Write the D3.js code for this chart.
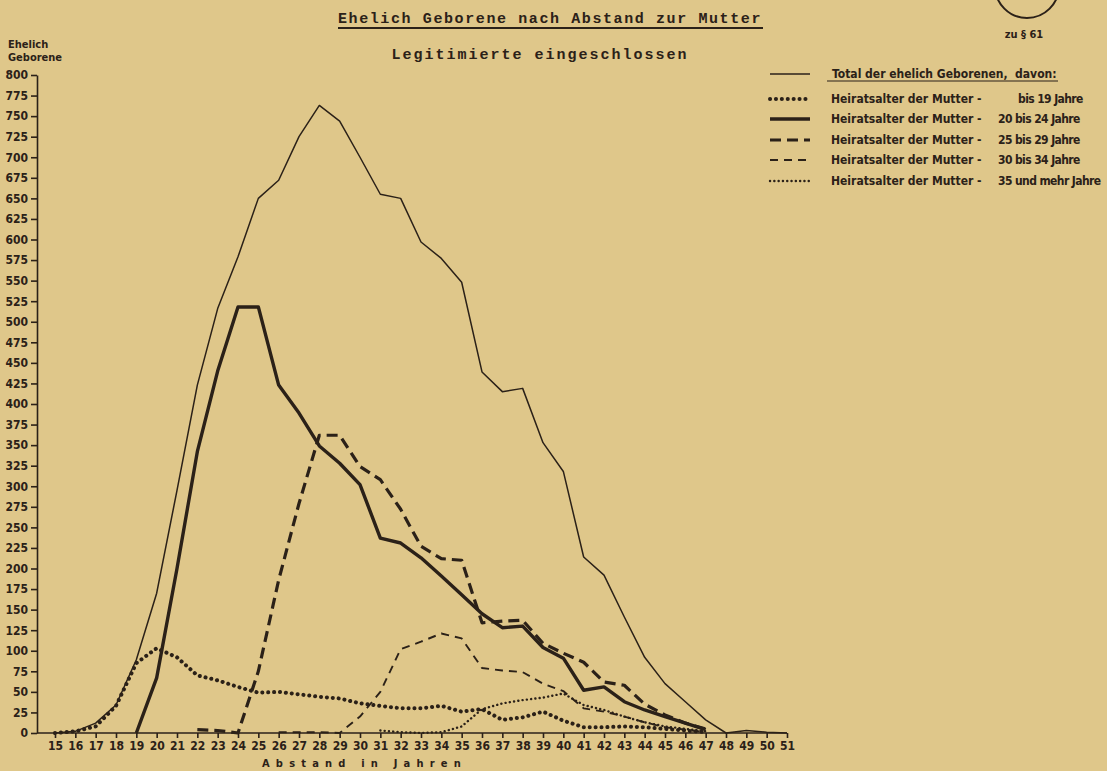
<!DOCTYPE html>
<html lang="de">
<head>
    <meta charset="UTF-8">
    <title>Ehelich Geborene nach Abstand zur Mutter</title>
    <script src="https://cdnjs.cloudflare.com/ajax/libs/d3/7.8.5/d3.min.js"></script>
    <style>
        body {
            margin: 0;
            background-color: #dfc78a;
        }

        svg {
            display: block;
        }

        .cond {
            font-family: "Liberation Sans Narrow", "DejaVu Sans Condensed", "Roboto Condensed", "Noto Sans", sans-serif;
            font-stretch: condensed;
            font-weight: bold;
            fill: #2b2118;
        }

        .mono {
            font-family: "Liberation Mono", "DejaVu Sans Mono", monospace;
            font-weight: bold;
            fill: #2b2118;
        }

        .axis path, .axis line {
            stroke: #2b2118;
            stroke-width: 1.6;
        }
    </style>
</head>
<body>
<div id="chart"></div>
<script type="text/javascript">
    // Abstand in Jahren (x axis)
    const years = d3.range(15, 52);

    // values per year, null where the curve is not drawn
    const total = [0, 2, 12, 34, 89, 170, 295, 423, 516, 579, 650, 672, 725, 763, 744, 700, 655, 650, 597, 577,
        548, 439, 415, 419, 353, 318, 214, 192, 141, 92, 60, 38, 16, 0, 3, 1, 0];
    const bis19 = [0, 2, 8, 33, 85, 103, 92, 70, 64, 56, 49, 50, 47, 44, 42, 36, 33, 30, 30, 33,
        26, 29, 16, 19, 26, 15, 7, 7, 8, 7, 5, 3, 1, null, null, null, null];
    const von20bis24 = [null, null, null, null, 0, 67, 200, 342, 440, 518, 518, 423, 389, 349, 328, 302, 237, 231, 213, 191,
        168, 145, 128, 130, 104, 91, 52, 56, 38, 28, 20, 12, 4, null, null, null, null];
    const von25bis29 = [null, null, null, null, null, null, null, 4, 3, 0, 75, 186, 279, 362, 362, 324, 308, 272, 227, 212,
        210, 134, 136, 137, 109, 97, 86, 62, 58, 35, 22, 12, 5, null, null, null, null];
    const von30bis34 = [null, null, null, null, null, null, null, null, null, null, null, 1, 1, 1, 0, 20, 50, 102, 111, 121,
        115, 79, 76, 74, 60, 51, 30, 26, 20, 13, 7, 4, 1, null, null, null, null];
    const ab35 = [null, null, null, null, null, null, null, null, null, null, null, null, null, null, null, null, 3, 1, 0, 1,
        8, 29, 36, 40, 43, 48, 34, 28, 20, 13, 8, 5, 2, null, null, null, null];

    const yTicks = d3.range(0, 801, 25);

    const legendPrefix = 'Heiratsalter der Mutter -';
    const legendTotal = 'Total der ehelich Geborenen,  davon:';

    function onLoad() {
        const width = 1107;
        const height = 771;
        const ink = '#2b2118';

        const svg = d3.select('#chart')
            .append('svg')
            .attr('width', width)
            .attr('height', height);

        const x = d3.scaleLinear().domain([15, 51]).range([55, 787]);
        const y = d3.scaleLinear().domain([0, 800]).range([733, 75]);
        const axisX0 = 37;

        // titles
        svg.append('text').attr('class', 'mono')
            .attr('x', 550).attr('y', 23)
            .attr('text-anchor', 'middle')
            .style('font-size', '15px')
            .style('letter-spacing', '1.6px')
            .text('Ehelich Geborene nach Abstand zur Mutter');
        svg.append('line')
            .attr('x1', 338).attr('x2', 763).attr('y1', 28).attr('y2', 28)
            .attr('stroke', ink).attr('stroke-width', 1.8);
        svg.append('text').attr('class', 'mono')
            .attr('x', 540).attr('y', 59)
            .attr('text-anchor', 'middle')
            .style('font-size', '15px')
            .style('letter-spacing', '2px')
            .text('Legitimierte eingeschlossen');

        // stamp top right
        svg.append('circle')
            .attr('cx', 1027).attr('cy', -14).attr('r', 32)
            .attr('fill', 'none').attr('stroke', ink).attr('stroke-width', 2);
        svg.append('text').attr('class', 'cond')
            .attr('x', 1024).attr('y', 38)
            .attr('text-anchor', 'middle')
            .style('font-size', '11px')
            .text('zu § 61');

        // y axis label
        svg.append('text').attr('class', 'cond')
            .attr('x', 8).attr('y', 48).style('font-size', '11px').text('Ehelich');
        svg.append('text').attr('class', 'cond')
            .attr('x', 8).attr('y', 61).style('font-size', '11px').text('Geborene');

        // axes
        const yAxis = d3.axisLeft(y).tickValues(yTicks).tickSize(6).tickSizeOuter(0).tickPadding(3);
        const gy = svg.append('g').attr('class', 'axis')
            .attr('transform', `translate(${axisX0}, 0)`)
            .call(yAxis);
        gy.selectAll('text').attr('class', 'cond').style('font-size', '12px');

        const xAxis = d3.axisBottom(x).tickValues(years).tickFormat(d3.format('d')).tickSize(5).tickSizeOuter(0).tickPadding(3);
        const gx = svg.append('g').attr('class', 'axis')
            .attr('transform', `translate(0, ${y(0)})`)
            .call(xAxis);
        gx.select('.domain').attr('d', `M${axisX0},0H${x(51)}`);
        gx.selectAll('text').attr('class', 'cond').style('font-size', '12px');

        svg.append('text').attr('class', 'cond')
            .attr('x', 262).attr('y', 767)
            .style('font-size', '11px')
            .style('letter-spacing', '6.2px')
            .text('Abstand in Jahren');

        // series
        const series = [
            {name: 'total', values: total, width: 1.5, dash: null, cap: 'butt'},
            {name: 'bis 19 Jahre', values: bis19, width: 4, dash: '0.1 5.8', cap: 'round'},
            {name: '20 bis 24 Jahre', values: von20bis24, width: 3.4, dash: null, cap: 'butt'},
            {name: '25 bis 29 Jahre', values: von25bis29, width: 3.2, dash: '11 6', cap: 'butt'},
            {name: '30 bis 34 Jahre', values: von30bis34, width: 1.9, dash: '8 6', cap: 'butt'},
            {name: '35 und mehr Jahre', values: ab35, width: 2.4, dash: '0.1 4.2', cap: 'round'}
        ];

        const line = d3.line()
            .defined(d => d[1] !== null)
            .x(d => x(d[0]))
            .y(d => y(d[1]));

        svg.selectAll('path.series')
            .data(series)
            .enter()
            .append('path')
            .attr('class', 'series')
            .attr('d', s => line(years.map((yr, i) => [yr, s.values[i]])))
            .attr('fill', 'none')
            .attr('stroke', ink)
            .attr('stroke-width', s => s.width)
            .attr('stroke-dasharray', s => s.dash)
            .attr('stroke-linecap', s => s.cap)
            .attr('stroke-linejoin', 'round');

        // legend
        const rowY = [74, 99, 119, 140, 160, 181];
        const legend = svg.append('g').attr('id', 'legend');
        legend.selectAll('line')
            .data(series)
            .enter()
            .append('line')
            .attr('x1', 770).attr('x2', 810)
            .attr('y1', (_, i) => rowY[i]).attr('y2', (_, i) => rowY[i])
            .attr('stroke', ink)
            .attr('stroke-width', s => s.width)
            .attr('stroke-dasharray', s => s.dash)
            .attr('stroke-linecap', s => s.cap);

        legend.append('text').attr('class', 'cond')
            .attr('x', 832).attr('y', rowY[0] + 4)
            .style('font-size', '12px')
            .style('white-space', 'pre')
            .text(legendTotal);
        legend.append('line')
            .attr('x1', 827).attr('x2', 1058).attr('y1', rowY[0] + 7).attr('y2', rowY[0] + 7)
            .attr('stroke', ink).attr('stroke-width', 1.2);

        series.slice(1).forEach((s, i) => {
            legend.append('text').attr('class', 'cond')
                .attr('x', 831).attr('y', rowY[i + 1] + 4)
                .style('font-size', '12px')
                .text(legendPrefix);
            legend.append('text').attr('class', 'cond')
                .attr('x', i === 0 ? 1018 : 998).attr('y', rowY[i + 1] + 4)
                .style('font-size', '12px')
                .style('letter-spacing', '-0.6px')
                .text(s.name);
        });
    }

    document.addEventListener('DOMContentLoaded', onLoad);
</script>
</body>
</html>
